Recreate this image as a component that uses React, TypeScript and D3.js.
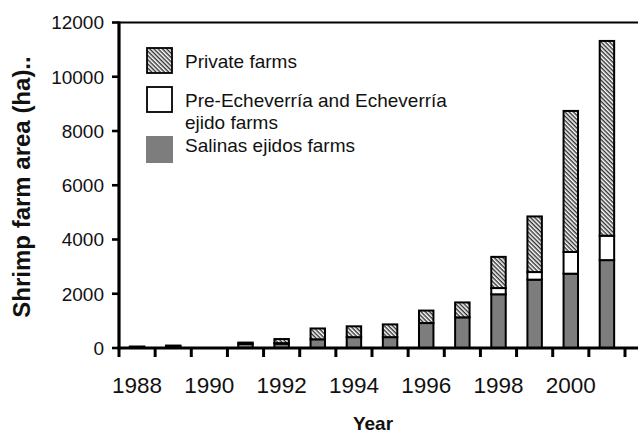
import React from "react";
import * as d3 from "d3";

const years = [1988, 1989, 1990, 1991, 1992, 1993, 1994, 1995, 1996, 1997, 1998, 1999, 2000, 2001];
const salinas = [30, 60, 0, 150, 160, 320, 400, 400, 920, 1130, 1980, 2520, 2740, 3240];
const echeverria = [0, 0, 0, 0, 20, 0, 0, 0, 0, 0, 230, 280, 800, 900];
const privateFarms = [25, 30, 0, 50, 150, 400, 400, 470, 460, 550, 1150, 2050, 5200, 7180];
const yTicks = [0, 2000, 4000, 6000, 8000, 10000, 12000];
const xLabels = [1988, 1990, 1992, 1994, 1996, 1998, 2000];
const legendLabels = [["Private farms"], ["Pre-Echeverría and Echeverría", "ejido farms"], ["Salinas ejidos farms"]];

const W = 638, H = 433;
const left = 119, right = 625, top = 22.5, bottom = 348;
const font = "'Liberation Sans', Arial, Helvetica, sans-serif";
const GRAY = "#7d7d7d";

export default function App() {
  const x = d3.scaleBand<number>().domain(years).range([left, right]).paddingInner(0.6).paddingOuter(0.3);
  const xb = d3.scaleBand<number>().domain(years).range([left, right]);
  const y = d3.scaleLinear().domain([0, 12000]).range([bottom, top]);

  const stack = d3.stack<number>().keys(["s", "e", "p"]).value((i, k) =>
    k === "s" ? salinas[i] : k === "e" ? echeverria[i] : privateFarms[i]
  );
  const series = stack(years.map((_, i) => i));
  const fills = [GRAY, "#ffffff", "url(#hatch)"];

  const bounds = [...years.map((yr) => xb(yr)!), right];

  return (
    <svg width={W} height={H} style={{ position: "absolute", left: 0, top: 0, background: "#fff" }} fontFamily={font}>
      <defs>
        <pattern id="hatch" patternUnits="userSpaceOnUse" width="3" height="3" patternTransform="rotate(45)">
          <rect width="3" height="3" fill="#fff" />
          <line x1="0" y1="0.75" x2="3" y2="0.75" stroke="#1a1a1a" strokeWidth="1.3" />
        </pattern>
      </defs>
      <rect x={0} y={0} width={W} height={H} fill="#fff" />

      {series.map((s, si) =>
        s.map((d, i) => {
          const v = d[1] - d[0];
          if (v <= 0) return null;
          return (
            <rect key={`${si}-${i}`} x={x(years[i])!} width={x.bandwidth()} y={y(d[1])} height={Math.max(0.5, y(d[0]) - y(d[1]))}
              fill={fills[si]} stroke="#000" strokeWidth={2} />
          );
        })
      )}

      {/* frame */}
      <line x1={left} x2={W} y1={top} y2={top} stroke="#000" strokeWidth={2.2} />
      <line x1={left} x2={left} y1={top - 1} y2={bottom + 1.5} stroke="#000" strokeWidth={3.2} />
      <line x1={left - 1.5} x2={W} y1={bottom} y2={bottom} stroke="#000" strokeWidth={3} />

      {yTicks.map((t) => (
        <g key={t}>
          <line x1={left - 7} x2={left} y1={y(t)} y2={y(t)} stroke="#000" strokeWidth={2.6} />
          <text x={104} y={y(t) + 6.8} textAnchor="end" fontSize={19} fill="#111">{t}</text>
        </g>
      ))}
      {bounds.map((b, i) => (
        <line key={i} x1={b} x2={b} y1={bottom} y2={bottom + 9} stroke="#000" strokeWidth={3} />
      ))}
      {xLabels.map((yr) => (
        <text key={yr} x={xb(yr)! + xb.bandwidth() / 2} y={393} textAnchor="middle" fontSize={22.5} fill="#111">{yr}</text>
      ))}
      <text x={373} y={430} textAnchor="middle" fontSize={19} fontWeight="bold" fill="#111">Year</text>
      <text transform={`translate(30,187) rotate(-90)`} textAnchor="middle" fontSize={24} fontWeight="bold" fill="#111">Shrimp farm area (ha)..</text>

      {/* legend */}
      <rect x={147} y={48} width={25} height={25} fill="url(#hatch)" stroke="#000" strokeWidth={1.8} />
      <rect x={147} y={87} width={25} height={25} fill="#fff" stroke="#000" strokeWidth={1.8} />
      <rect x={146} y={136} width={27} height={27} fill={GRAY} />
      <text x={185} y={68} fontSize={19} fill="#111">{legendLabels[0][0]}</text>
      <text x={185} y={107} fontSize={19} fill="#111">{legendLabels[1][0]}</text>
      <text x={185} y={128.5} fontSize={19} fill="#111">{legendLabels[1][1]}</text>
      <text x={185} y={152} fontSize={19} fill="#111">{legendLabels[2][0]}</text>
    </svg>
  );
}
